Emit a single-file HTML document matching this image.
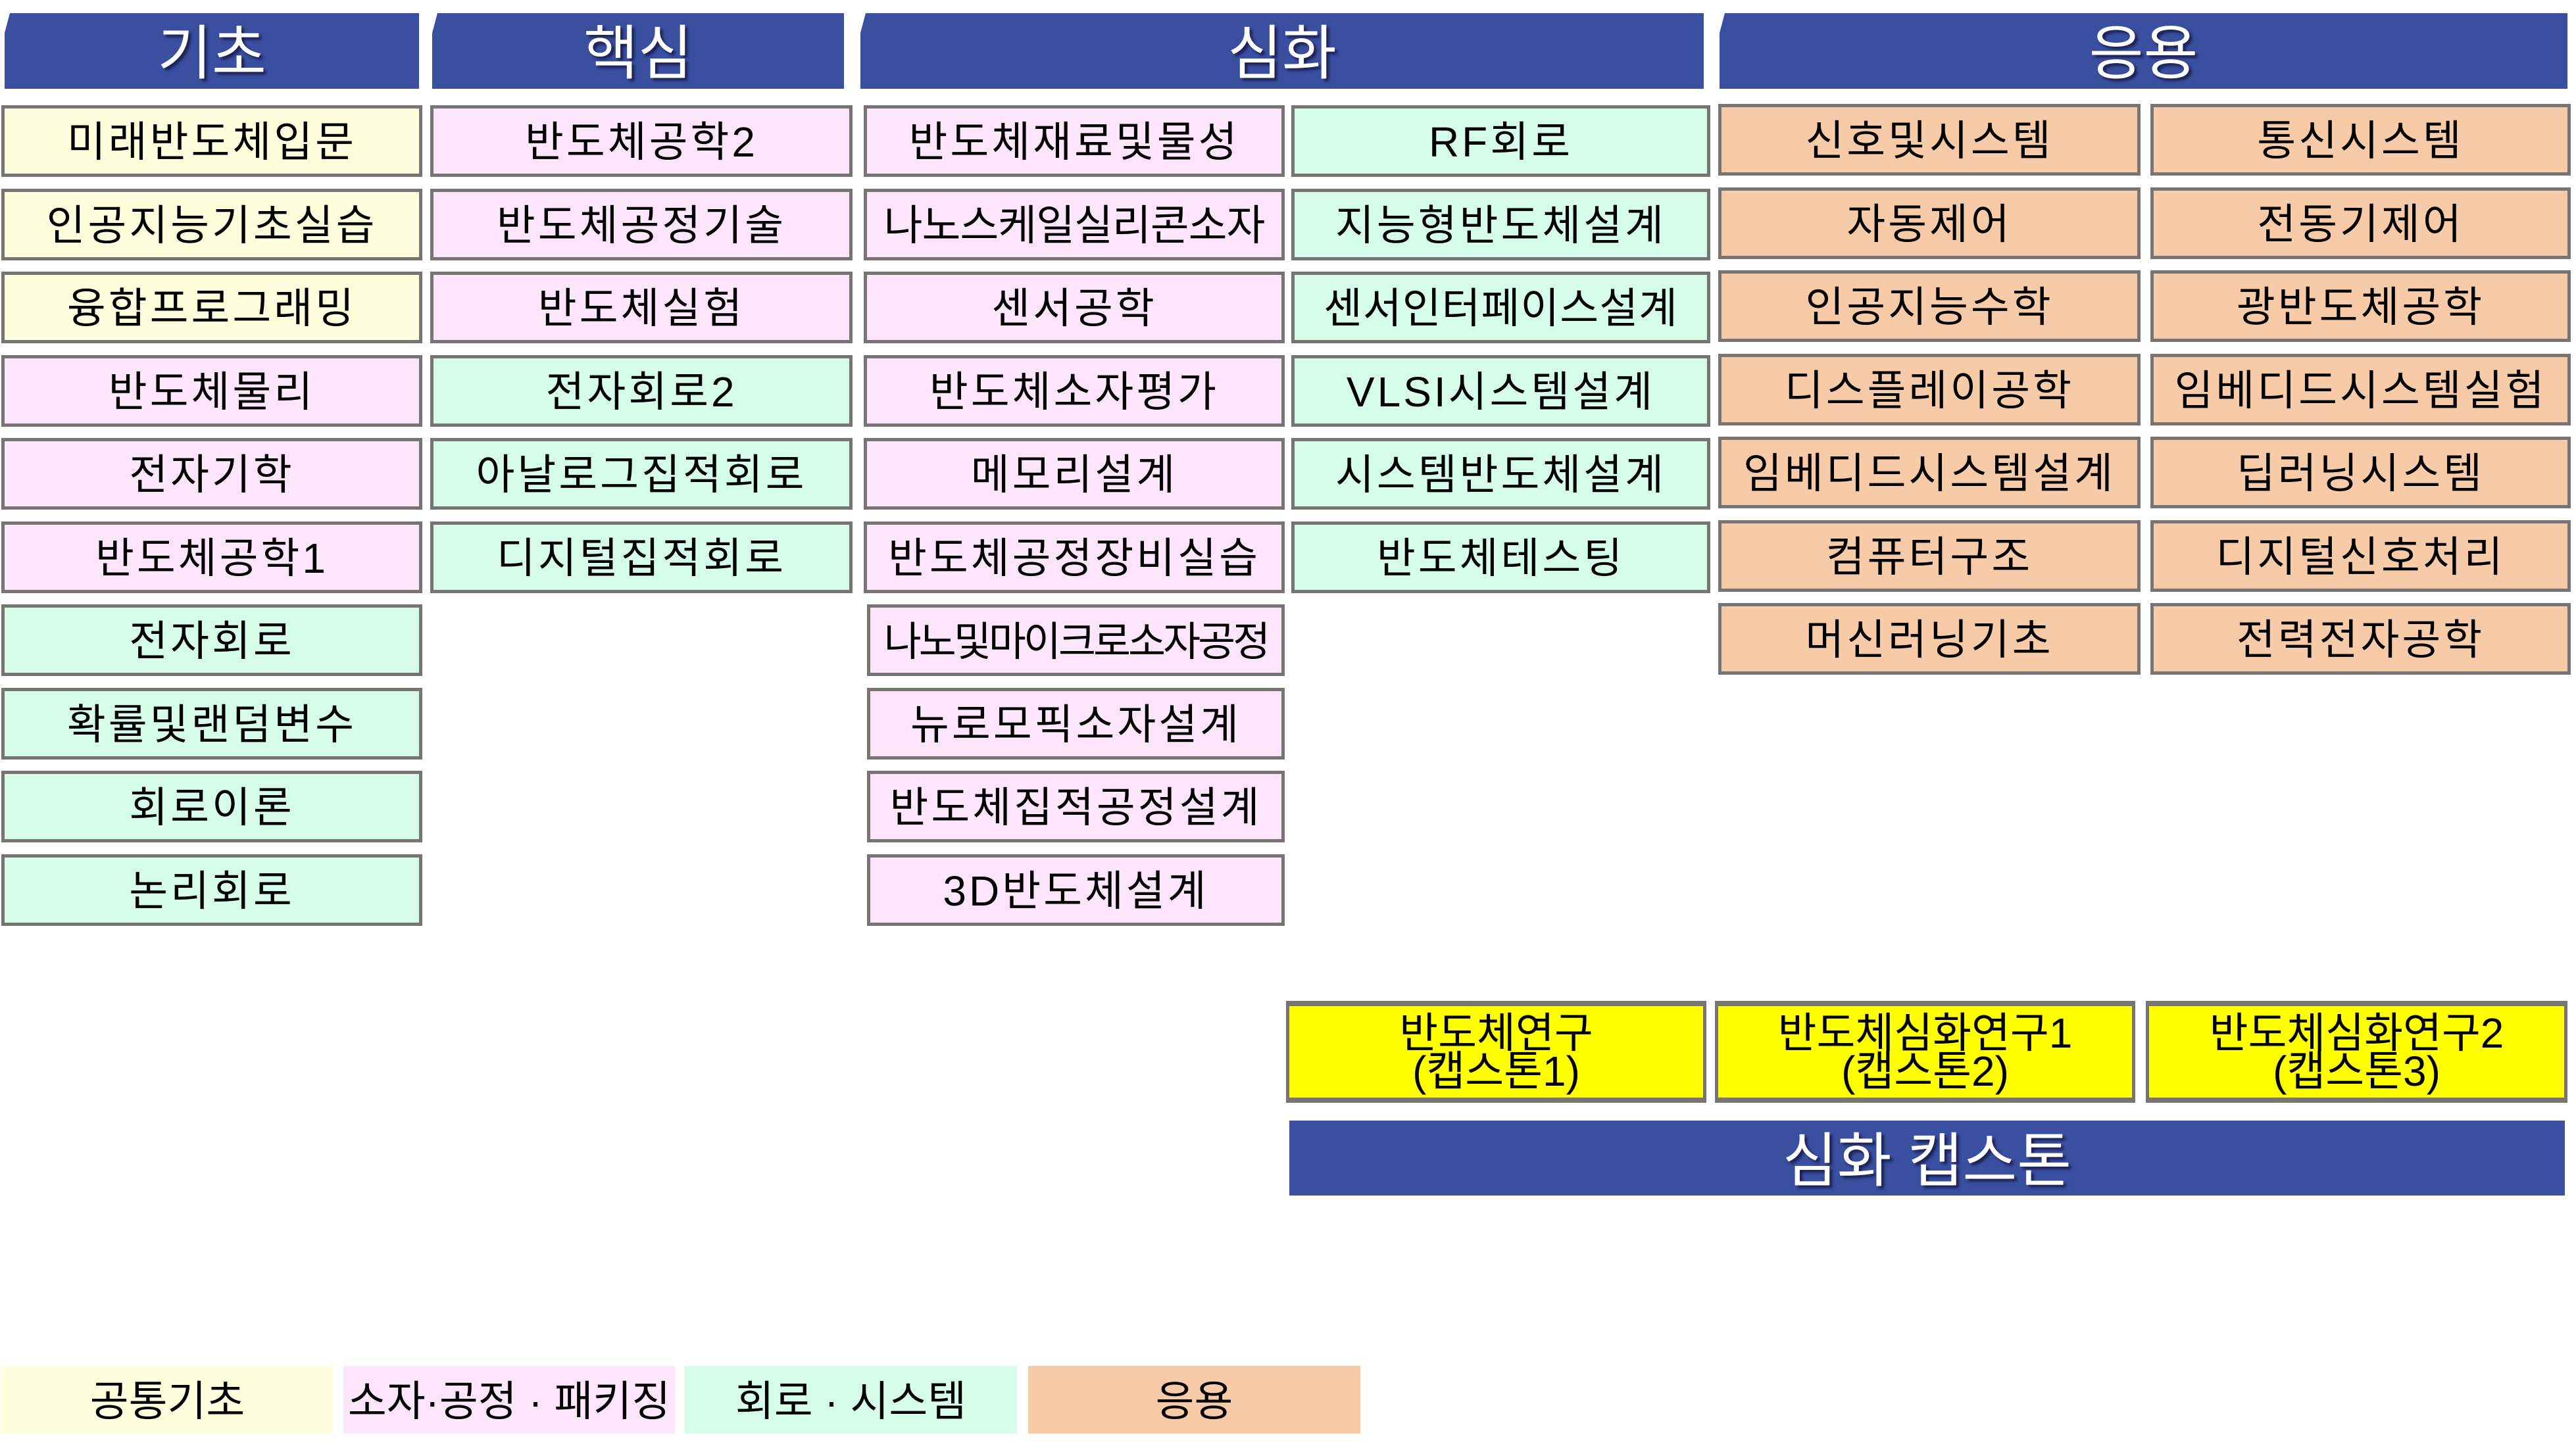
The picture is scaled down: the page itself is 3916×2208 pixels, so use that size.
<!DOCTYPE html>
<html><head><meta charset="utf-8"><style>
body{margin:0;width:3916px;height:2208px;background:#fff;position:relative;overflow:hidden;font-family:"Liberation Sans","Noto Sans CJK KR",sans-serif}
.h{position:absolute;top:20px;height:115px;box-sizing:border-box;padding-bottom:10px;background:#3a4fa0;color:#fff;font-size:90px;display:flex;align-items:center;justify-content:center;text-shadow:4px 4px 4px #1a2050;clip-path:polygon(8px 0,100% 0,100% 100%,0 100%,0 30px)}
.b{position:absolute;height:109px;box-sizing:border-box;border:5px solid #787474;padding-bottom:8px;display:flex;align-items:center;justify-content:center;font-size:64px;letter-spacing:4px;white-space:nowrap;color:#000}
.y{background:#ffffdd}.p{background:#fde6fc}.g{background:#d6fde9}.o{background:#f8cba8}.cy{background:#ffff00}
.l{position:absolute;top:2077px;height:103px;box-sizing:border-box;padding-bottom:6px;display:flex;align-items:center;justify-content:center;font-size:64px}
.c{position:absolute;top:1522px;height:155px;box-sizing:border-box;border:5px solid #787474;border-top-width:8px;border-bottom-width:8px;background:#ffff00;display:flex;flex-direction:column;align-items:center;justify-content:center;font-size:64px;line-height:58px;text-align:center}
</style></head><body>
<div class="h" style="left:7px;width:630px">기초</div>
<div class="h" style="left:657px;width:626px">핵심</div>
<div class="h" style="left:1308px;width:1282px">심화</div>
<div class="h" style="left:2614px;width:1289px">응용</div>

<div class="b y" style="left:2px;width:640px;top:160px">미래반도체입문</div>
<div class="b y" style="left:2px;width:640px;top:287px">인공지능기초실습</div>
<div class="b y" style="left:2px;width:640px;top:413px">융합프로그래밍</div>
<div class="b p" style="left:2px;width:640px;top:540px">반도체물리</div>
<div class="b p" style="left:2px;width:640px;top:666px">전자기학</div>
<div class="b p" style="left:2px;width:640px;top:793px">반도체공학1</div>
<div class="b g" style="left:2px;width:640px;top:919px">전자회로</div>
<div class="b g" style="left:2px;width:640px;top:1046px">확률및랜덤변수</div>
<div class="b g" style="left:2px;width:640px;top:1172px">회로이론</div>
<div class="b g" style="left:2px;width:640px;top:1299px">논리회로</div>

<div class="b p" style="left:654px;width:642px;top:160px">반도체공학2</div>
<div class="b p" style="left:654px;width:642px;top:287px">반도체공정기술</div>
<div class="b p" style="left:654px;width:642px;top:413px">반도체실험</div>
<div class="b g" style="left:654px;width:642px;top:540px">전자회로2</div>
<div class="b g" style="left:654px;width:642px;top:666px">아날로그집적회로</div>
<div class="b g" style="left:654px;width:642px;top:793px">디지털집적회로</div>

<div class="b p" style="left:1313px;width:640px;top:160px">반도체재료및물성</div>
<div class="b p" style="left:1313px;width:640px;top:287px;letter-spacing:-1px">나노스케일실리콘소자</div>
<div class="b p" style="left:1313px;width:640px;top:413px">센서공학</div>
<div class="b p" style="left:1313px;width:640px;top:540px">반도체소자평가</div>
<div class="b p" style="left:1313px;width:640px;top:666px">메모리설계</div>
<div class="b p" style="left:1313px;width:640px;top:793px">반도체공정장비실습</div>
<div class="b p" style="left:1318px;width:635px;top:919px;letter-spacing:-4px;font-size:62px">나노및마이크로소자공정</div>
<div class="b p" style="left:1318px;width:635px;top:1046px">뉴로모픽소자설계</div>
<div class="b p" style="left:1318px;width:635px;top:1172px">반도체집적공정설계</div>
<div class="b p" style="left:1318px;width:635px;top:1299px">3D반도체설계</div>

<div class="b g" style="left:1963px;width:637px;top:160px">RF회로</div>
<div class="b g" style="left:1963px;width:637px;top:287px">지능형반도체설계</div>
<div class="b g" style="left:1963px;width:637px;top:413px;letter-spacing:1px">센서인터페이스설계</div>
<div class="b g" style="left:1963px;width:637px;top:540px">VLSI시스템설계</div>
<div class="b g" style="left:1963px;width:637px;top:666px">시스템반도체설계</div>
<div class="b g" style="left:1963px;width:637px;top:793px">반도체테스팅</div>

<div class="b o" style="left:2612px;width:642px;top:158px">신호및시스템</div>
<div class="b o" style="left:2612px;width:642px;top:285px">자동제어</div>
<div class="b o" style="left:2612px;width:642px;top:411px">인공지능수학</div>
<div class="b o" style="left:2612px;width:642px;top:538px">디스플레이공학</div>
<div class="b o" style="left:2612px;width:642px;top:664px">임베디드시스템설계</div>
<div class="b o" style="left:2612px;width:642px;top:791px">컴퓨터구조</div>
<div class="b o" style="left:2612px;width:642px;top:917px">머신러닝기초</div>

<div class="b o" style="left:3269px;width:639px;top:158px">통신시스템</div>
<div class="b o" style="left:3269px;width:639px;top:285px">전동기제어</div>
<div class="b o" style="left:3269px;width:639px;top:411px">광반도체공학</div>
<div class="b o" style="left:3269px;width:639px;top:538px">임베디드시스템실험</div>
<div class="b o" style="left:3269px;width:639px;top:664px">딥러닝시스템</div>
<div class="b o" style="left:3269px;width:639px;top:791px">디지털신호처리</div>
<div class="b o" style="left:3269px;width:639px;top:917px">전력전자공학</div>

<div class="c" style="left:1955px;width:639px"><div>반도체연구</div><div>(캡스톤1)</div></div>
<div class="c" style="left:2607px;width:639px"><div>반도체심화연구1</div><div>(캡스톤2)</div></div>
<div class="c" style="left:3262px;width:641px"><div>반도체심화연구2</div><div>(캡스톤3)</div></div>
<div style="position:absolute;left:1960px;top:1704px;width:1939px;height:114px;box-sizing:border-box;padding-bottom:8px;background:#3a4fa0;color:#fff;font-size:90px;display:flex;align-items:center;justify-content:center;text-shadow:4px 4px 4px #1a2050">심화 캡스톤</div>

<div class="l y" style="left:2px;width:505px">공통기초</div>
<div class="l p" style="left:522px;width:504px">소자·공정 · 패키징</div>
<div class="l g" style="left:1041px;width:505px">회로 · 시스템</div>
<div class="l o" style="left:1563px;width:505px">응용</div>
</body></html>
